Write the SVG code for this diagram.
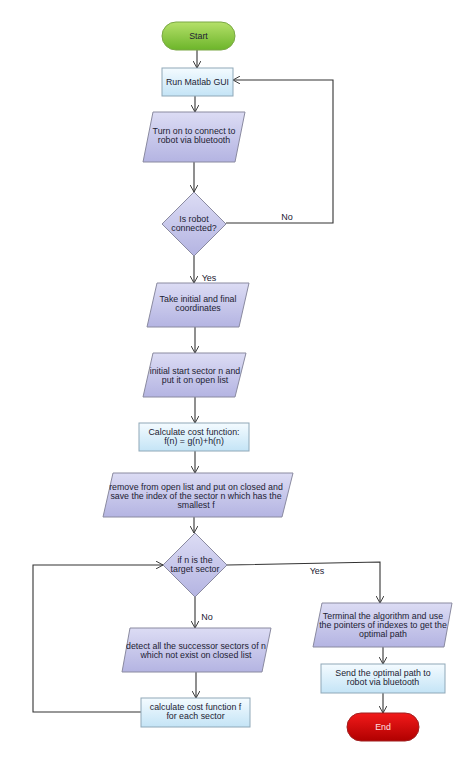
<svg xmlns="http://www.w3.org/2000/svg" width="474" height="763" viewBox="0 0 474 763">
<defs>
<linearGradient id="gGreen" x1="0" y1="0" x2="0" y2="1"><stop offset="0" stop-color="#b5e06a"/><stop offset="1" stop-color="#6cb52a"/></linearGradient>
<linearGradient id="gRed" x1="0" y1="0" x2="0" y2="1"><stop offset="0" stop-color="#f21a1a"/><stop offset="1" stop-color="#b00000"/></linearGradient>
<linearGradient id="gBlue" x1="0" y1="0" x2="0" y2="1"><stop offset="0" stop-color="#f4fbff"/><stop offset="1" stop-color="#c4e4f6"/></linearGradient>
<linearGradient id="gLav" x1="0" y1="0" x2="0" y2="1"><stop offset="0" stop-color="#dcdcf4"/><stop offset="1" stop-color="#b4b4e2"/></linearGradient>
<marker id="arr" viewBox="0 0 10 10" refX="9" refY="5" markerWidth="8" markerHeight="8" orient="auto" markerUnits="userSpaceOnUse">
<path d="M0,0 L9,5 L0,10" fill="none" stroke="#333" stroke-width="1.2"/>
</marker>
</defs>
<style>
text{font-family:"Liberation Sans",Arial,sans-serif;font-size:8.8px;fill:#222233;text-anchor:middle}
.lbl{font-size:9px}
.box{fill:url(#gBlue);stroke:#8fa8b8;stroke-width:1}
.para{fill:url(#gLav);stroke:#8a8aa0;stroke-width:1}
.dia{fill:url(#gLav);stroke:#8a8aa0;stroke-width:1}
.conn{fill:none;stroke:#333;stroke-width:1.1;marker-end:url(#arr)}
</style>
<rect width="474" height="763" fill="#ffffff"/>
<g id="connectors">
<path class="conn" d="M197,50 V68"/>
<path class="conn" d="M195,96 V112"/>
<path class="conn" d="M194,162 V192"/>
<path class="conn" d="M226,223 H333 V80 H233"/>
<path class="conn" d="M194,256 V283"/>
<path class="conn" d="M195,327 V353"/>
<path class="conn" d="M195,397 V423"/>
<path class="conn" d="M195,451 V473"/>
<path class="conn" d="M194,517 V533"/>
<path class="conn" d="M227,565 L380,562 V603"/>
<path class="conn" d="M195,597 V628"/>
<path class="conn" d="M196,672 V698"/>
<path class="conn" d="M141,712 H33 V565 H163"/>
<path class="conn" d="M383,647 V664"/>
<path class="conn" d="M383,693 V713"/>
<text class="lbl" x="287" y="220">No</text>
<text class="lbl" x="209" y="281">Yes</text>
<text class="lbl" x="317" y="574">Yes</text>
<text class="lbl" x="207" y="620">No</text>
</g>
<g id="start">
<rect x="162" y="22" width="73" height="28" rx="14" fill="url(#gGreen)" stroke="#7aa844"/>
<text x="198.5" y="39">Start</text>
</g>
<g id="run-gui">
<rect class="box" x="162" y="68" width="71" height="28"/>
<text x="197.5" y="85">Run Matlab GUI</text>
</g>
<g id="turn-on">
<polygon class="para" points="153,112 245,112 235,162 143,162"/>
<text x="194" y="134">Turn on to connect to</text>
<text x="194" y="143">robot via bluetooth</text>
</g>
<g id="is-connected">
<polygon class="dia" points="194,192 226,224 194,256 162,224"/>
<text x="194" y="222">Is robot</text>
<text x="194" y="231">connected?</text>
</g>
<g id="take-coords">
<polygon class="para" points="157,283 249,283 239,327 147,327"/>
<text x="198" y="302">Take initial and final</text>
<text x="198" y="311">coordinates</text>
</g>
<g id="init-sector">
<polygon class="para" points="153,353 246,353 235,397 143,397"/>
<text x="195" y="374">initial start sector n and</text>
<text x="195" y="383">put it on open list</text>
</g>
<g id="calc-cost">
<rect class="box" x="139" y="423" width="110" height="28"/>
<text x="194" y="435">Calculate cost function:</text>
<text x="194" y="444">f(n) = g(n)+h(n)</text>
</g>
<g id="remove-open">
<polygon class="para" points="113,473 293,473 282,517 103,517"/>
<text x="196" y="490">remove from open list and put on closed and</text>
<text x="196" y="499">save the index of the sector n which has the</text>
<text x="196" y="508">smallest f</text>
</g>
<g id="is-target">
<polygon class="dia" points="195,533 227,565 195,597 163,565"/>
<text x="195" y="563">if n is the</text>
<text x="195" y="572">target sector</text>
</g>
<g id="detect-succ">
<polygon class="para" points="130,628 271,628 262,672 122,672"/>
<text x="196" y="649">detect all the successor sectors of n</text>
<text x="196" y="658">which not exist on closed list</text>
</g>
<g id="calc-each">
<rect class="box" x="141" y="698" width="109" height="29"/>
<text x="195.5" y="710">calculate cost function f</text>
<text x="195.5" y="719">for each sector</text>
</g>
<g id="terminal">
<polygon class="para" points="322,603 452,603 444,647 313,647"/>
<text x="383" y="619">Terminal the algorithm and use</text>
<text x="383" y="628">the pointers of indexes to get the</text>
<text x="383" y="637">optimal path</text>
</g>
<g id="send-path">
<rect class="box" x="321" y="664" width="124" height="29"/>
<text x="383" y="676">Send the optimal path to</text>
<text x="383" y="685">robot via bluetooth</text>
</g>
<g id="end">
<rect x="347" y="713" width="72" height="28" rx="14" fill="url(#gRed)" stroke="#a02020"/>
<text x="383" y="730" style="fill:#ffe0e0">End</text>
</g>
</svg>
